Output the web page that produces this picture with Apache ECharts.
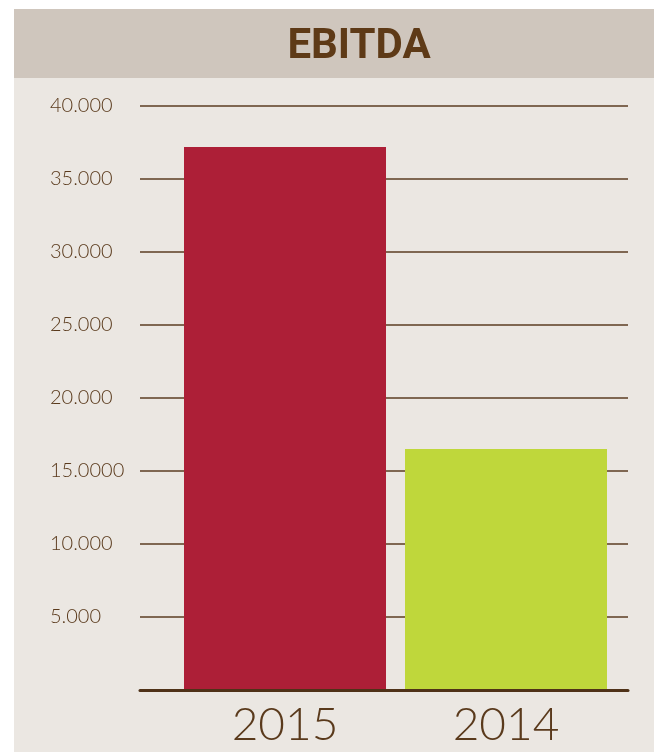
<!DOCTYPE html>
<html>
<head>
<meta charset="utf-8">
<script src="https://cdn.jsdelivr.net/npm/echarts@6/dist/echarts.min.js"></script>
<style>html,body{margin:0;padding:0;background:#fff;}#c{width:654px;height:752px;}</style>
</head>
<body>
<div id="c"></div>
<script>
const title = 'EBITDA';
const categories = ['2015', '2014'];
const values = [37200, 16500];
const barColors = ['#ad1f37', '#bfd73b'];
const tickValues = [0, 5000, 10000, 15000, 20000, 25000, 30000, 35000, 40000];
const tickLabels = ['', '5.000', '10.000', '15.0000', '20.000', '25.000', '30.000', '35.000', '40.000'];

const brown = '#5a3a1c';
const chart = echarts.init(document.getElementById('c'), null, {renderer: 'canvas'});
chart.setOption({
  backgroundColor: '#ffffff',
  animation: false,
  graphic: [
    {type: 'rect', z: -10, shape: {x: 14, y: 9, width: 640, height: 743}, style: {fill: '#ebe7e2'}},
    {type: 'rect', z: -9, shape: {x: 14, y: 9, width: 640, height: 69}, style: {fill: '#cfc6bd'}}
  ],
  title: {
    text: title, left: 354, top: 21, textAlign: 'center',
    textStyle: {fontFamily: 'Liberation Sans Narrow, Roboto, sans-serif', fontWeight: 'bold', fontSize: 42, color: '#5e3a17'}
  },
  grid: [
    {left: 140, right: 26, top: 106, bottom: 62},
    {left: 174.5, width: 442, top: 106, bottom: 62}
  ],
  xAxis: [
    {gridIndex: 0, type: 'value', min: 0, max: 1, axisLabel: {show: false}, axisTick: {show: false}, splitLine: {show: false},
     axisLine: {show: true, lineStyle: {color: '#4f3218', width: 3}}, z: 5},
    {gridIndex: 1, type: 'category', data: categories, axisTick: {show: false}, axisLine: {show: false},
     axisLabel: {margin: 12, fontFamily: 'Lato, sans-serif', fontWeight: 300, fontSize: 46, color: brown}}
  ],
  yAxis: [
    {gridIndex: 0, type: 'value', min: 0, max: 40000, interval: 5000,
     axisLine: {show: false}, axisTick: {show: false},
     axisLabel: {align: 'left', margin: 90, fontFamily: 'Lato, sans-serif', fontWeight: 300, fontSize: 20, color: brown,
       padding: [6, 0, 0, 0],
       formatter: function (v) { const i = tickValues.indexOf(v); return i >= 0 ? tickLabels[i] : ''; }},
     splitLine: {show: true, lineStyle: {color: '#5b3d22', width: 1.5}}},
    {gridIndex: 1, type: 'value', min: 0, max: 40000, interval: 5000, show: false, splitLine: {show: false}}
  ],
  series: [{
    type: 'bar', xAxisIndex: 1, yAxisIndex: 1, barWidth: 202,
    data: values.map((v, i) => ({value: v, itemStyle: {color: barColors[i]}})),
    z: 3
  }]
});
</script>
</body>
</html>
